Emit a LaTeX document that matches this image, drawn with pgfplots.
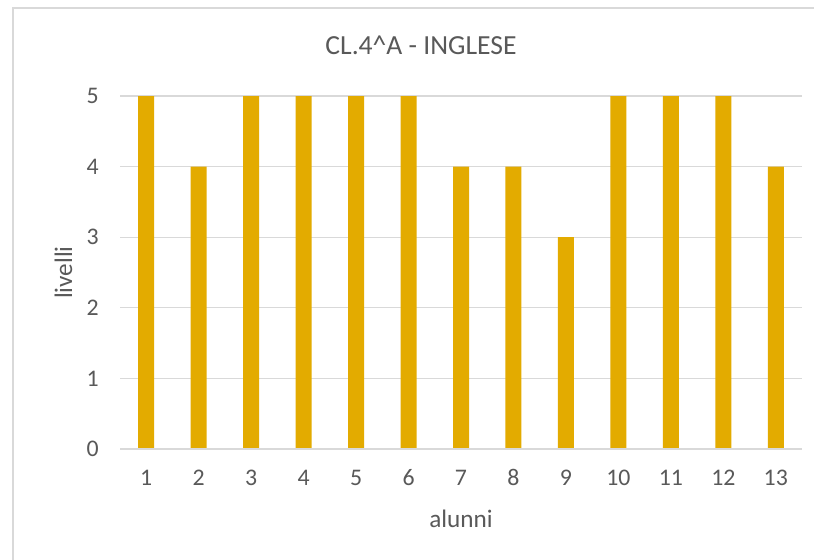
\documentclass[border=0pt]{standalone}
\usepackage{fontspec}
\setmainfont{Carlito}
\usepackage{pgfplots}
\pgfplotsset{compat=1.18}
\definecolor{barGold}{RGB}{227,171,0}
\definecolor{gridGray}{RGB}{217,217,217}
\definecolor{txtGray}{RGB}{89,89,89}

\begin{document}
\begin{tikzpicture}
\useasboundingbox (0,0) rectangle (407pt,279.5pt);
\clip (0,0) rectangle (407pt,279.5pt);
\fill[white] (0,0) rectangle (407pt,279.5pt);
% chart frame, cut off at right and bottom
\draw[gridGray, line width=1pt] (6.3pt,-20pt) -- (6.3pt,275.3pt) -- (430pt,275.3pt);
\begin{axis}[
    at={(60pt,55pt)}, anchor=south west,
    scale only axis, width=341pt, height=176.5pt,
    xmin=0.5, xmax=13.5, ymin=0, ymax=5,
    xtick={1,...,13}, ytick={0,...,5},
    ybar, bar width=8pt,
    axis line style={draw=none},
    ymajorgrids, grid style={gridGray, line width=0.6pt},
    major tick length=0pt,
    tick label style={font=\fontsize{11.9}{13}\selectfont, text=txtGray},
    /pgf/number format/assume math mode=true,
    xticklabel style={anchor=base, yshift=-18.25pt},
    yticklabel style={xshift=-7.1pt},
    clip=false]
\addplot[fill=barGold, draw=none] coordinates {
(1,5)(2,4)(3,5)(4,5)(5,5)(6,5)(7,4)(8,4)(9,3)(10,5)(11,5)(12,5)(13,4)};
\draw[gridGray, line width=1pt] (axis cs:0.5,0) -- (axis cs:13.5,0);
\end{axis}
\node[anchor=base, text=txtGray, font=\fontsize{13.8}{16}\selectfont] at (210.5pt,252.5pt) {CL.4\^{}A - INGLESE};
\node[anchor=base, text=txtGray, font=\fontsize{12.6}{15}\selectfont, rotate=90] at (36pt,143.25pt) {livelli};
\node[anchor=base, text=txtGray, font=\fontsize{12.6}{15}\selectfont] at (230.5pt,16pt) {alunni};
\end{tikzpicture}
\end{document}
